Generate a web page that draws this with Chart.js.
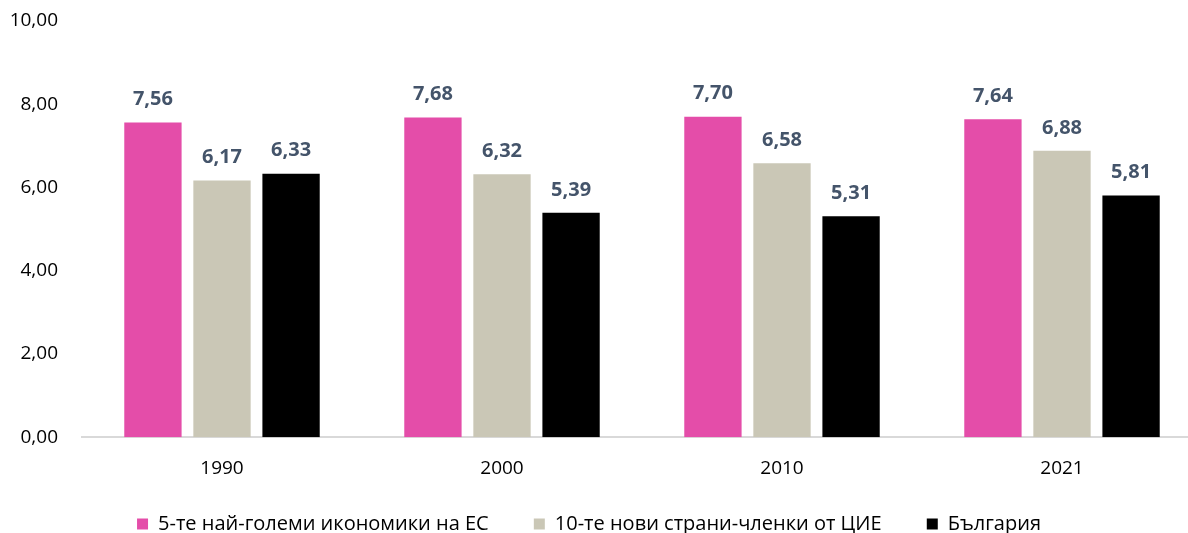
<!DOCTYPE html>
<html lang="bg">
<head>
    <meta charset="UTF-8">
    <title>Chart</title>
    <script src="https://cdn.jsdelivr.net/npm/chart.js"></script>
    <style>
        body {
            margin: 0;
            background: #ffffff;
            overflow: hidden;
        }

        .chart-container {
            width: 1202px; /* plot runs slightly past the window edge, as in the original */
            height: 544px;
        }
    </style>
</head>
<body>
    <div class="chart-container">
        <canvas id="barChart"></canvas>
    </div>

    <script>
        const years = ['1990', '2000', '2010', '2021'];
        const bigFive = [7.56, 7.68, 7.70, 7.64];
        const newMembers = [6.17, 6.32, 6.58, 6.88];
        const bulgaria = [6.33, 5.39, 5.31, 5.81];
        const seriesNames = ['5-те най-големи икономики на ЕС', '10-те нови страни-членки от ЦИЕ', 'България'];

        const fontFamily = "'Open Sans', 'Noto Sans', sans-serif";
        const fmt = v => v.toFixed(2).replace('.', ',');

        // value labels above bars + small legend nudge
        const valueLabels = {
            id: 'valueLabels',
            afterLayout(chart) {
                // centre the legend on the visible window, not the wider canvas
                chart.legend.left -= 12;
                chart.legend.right -= 12;
            },
            afterDatasetsDraw(chart) {
                const ctx = chart.ctx;
                ctx.save();
                ctx.font = 'bold 20px ' + fontFamily;
                ctx.fillStyle = '#44546A';
                ctx.textAlign = 'center';
                ctx.textBaseline = 'middle';
                chart.data.datasets.forEach((ds, i) => {
                    chart.getDatasetMeta(i).data.forEach((bar, j) => {
                        ctx.fillText(fmt(ds.data[j]), bar.x, bar.y - 23);
                    });
                });
                ctx.restore();
            }
        };

        const ctx = document.getElementById('barChart').getContext('2d');
        new Chart(ctx, {
            type: 'bar',
            data: {
                labels: years,
                datasets: [
                    { label: seriesNames[0], data: bigFive, backgroundColor: '#E44DA9' },
                    { label: seriesNames[1], data: newMembers, backgroundColor: '#CAC7B6' },
                    { label: seriesNames[2], data: bulgaria, backgroundColor: '#000000' },
                ],
            },
            options: {
                responsive: true,
                maintainAspectRatio: false,
                animation: false,
                datasets: {
                    bar: { categoryPercentage: 0.74, barPercentage: 0.83 }
                },
                layout: { padding: { top: 21, bottom: 0 } },
                scales: {
                    x: {
                        grid: { display: false, drawTicks: false },
                        border: { display: true, color: '#D9D9D9', width: 2 },
                        ticks: {
                            color: '#000000',
                            padding: 20,
                            font: { family: fontFamily, size: 19 }
                        }
                    },
                    y: {
                        min: 0,
                        max: 10,
                        grid: { display: false, drawTicks: false },
                        border: { display: false },
                        afterFit: scale => {
                            scale.width = 82;
                            scale.paddingTop = 0;
                            scale.paddingBottom = 0;
                        },
                        ticks: {
                            stepSize: 2,
                            color: '#000000',
                            padding: 24,
                            font: { family: fontFamily, size: 19 },
                            callback: v => fmt(v)
                        }
                    }
                },
                plugins: {
                    tooltip: { enabled: false },
                    legend: {
                        display: true,
                        position: 'bottom',
                        labels: {
                            color: '#000000',
                            boxWidth: 11,
                            boxHeight: 11,
                            padding: 14,
                            font: { family: fontFamily, size: 20 },
                            // hard spaces widen the gap between entries
                            generateLabels: chart => {
                                const items = Chart.defaults.plugins.legend.labels.generateLabels(chart);
                                items.forEach((it, i) => {
                                    if (i < items.length - 1) it.text += '\u00a0'.repeat(6);
                                });
                                return items;
                            }
                        }
                    }
                }
            },
            plugins: [valueLabels]
        });
    </script>
</body>
</html>
